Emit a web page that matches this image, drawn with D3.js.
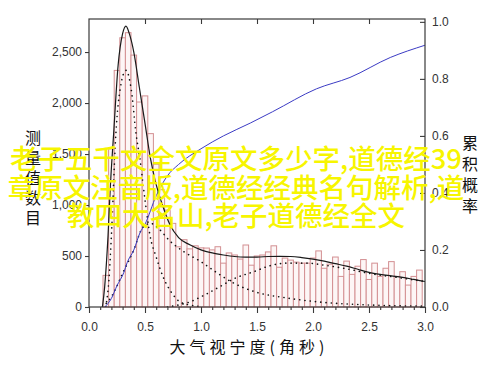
<!DOCTYPE html>
<html><head><meta charset="utf-8">
<script src="https://cdn.jsdelivr.net/npm/d3@7"></script>
<style>body{margin:0;background:#fff}svg{display:block}</style>
</head><body>
<script>
// ---- data ----
const binStarts = [0.125,0.175,0.225,0.275,0.325,0.375,0.425,0.475,0.525,0.575,0.625,0.675,0.725,0.775,0.825,0.875,0.925,0.975,1.025,1.075,1.125,1.175,1.225,1.275,1.325,1.375,1.425,1.475,1.525,1.575,1.625,1.675,1.725,1.775,1.825,1.875,1.925,1.975,2.025,2.075,2.125,2.175,2.225,2.275,2.325,2.375,2.425,2.475,2.525,2.575,2.625,2.675,2.725,2.775,2.825,2.875,2.925];
const binWidth = 0.05;
const counts = [310,1550,2320,2640,2690,2470,2010,2070,1700,1400,1150,950,820,590,660,570,600,580,578,560,591,430,530,510,470,608,410,500,510,540,600,390,480,460,440,430,430,480,550,380,420,490,300,450,320,400,465,270,430,300,380,445,300,346,215,300,362];

const fitX = [0.12,0.14,0.17,0.19,0.22,0.26,0.30,0.33,0.36,0.40,0.45,0.50,0.55,0.60,0.65,0.72,0.80,0.90,1.00,1.10,1.20,1.30,1.40,1.50,1.60,1.70,1.80,1.90,2.00,2.10,2.20,2.30,2.40,2.50,2.60,2.70,2.80,2.90,3.00];
const fitTotal = [0,200,700,1170,1700,2370,2680,2755,2680,2500,2150,1800,1450,1200,1020,814,680,610,560,530,510,495,490,490,495,497,495,485,470,450,425,400,370,340,320,305,290,270,250];

const compAx = [0.15,0.18,0.20,0.24,0.28,0.33,0.38,0.42,0.455,0.50,0.545,0.60,0.66,0.74,0.81,0.90,1.00];
const compA  = [0,300,700,1700,2150,2320,2110,1700,1450,1050,700,490,300,137,52,20,5];

const compDx = [0.12,0.20,0.30,0.40,0.48,0.55,0.62,0.72,0.85,1.00,1.15,1.29,1.48,1.77,2.03,2.50,3.00];
const compD  = [0,100,330,560,780,820,770,650,540,444,330,235,150,88,52,20,8];

const compCx = [0.70,0.80,0.90,1.00,1.17,1.30,1.48,1.60,1.77,1.95,2.10,2.30,2.50,2.75,3.00];
const compC  = [0,20,50,100,200,280,350,400,430,430,410,375,330,290,250];

const cdfX = [0.14,0.20,0.25,0.31,0.34,0.40,0.455,0.50,0.60,0.70,0.80,1.00,1.20,1.44,1.64,2.03,2.33,2.69,3.00];
const cdfP = [0,0.03,0.075,0.12,0.155,0.20,0.26,0.29,0.39,0.46,0.50,0.555,0.60,0.645,0.685,0.765,0.805,0.875,0.918];

const xTicks = [0,0.5,1,1.5,2,2.5,3];
const xMinor = [0.1,0.2,0.3,0.4,0.6,0.7,0.8,0.9,1.1,1.2,1.3,1.4,1.6,1.7,1.8,1.9,2.1,2.2,2.3,2.4,2.6,2.7,2.8,2.9];
const yLTicks = [0,500,1000,1500,2000,2500];
const yRTicks = [0,0.2,0.4,0.6,0.8,1.0];
const xTitle = "大气视宁度(角秒)";
const yLTitle = "测量值数目";
const yRTitle = "累积概率";
const watermark = ["老子五千文全文原文多少字,道德经39","章原文注音版,道德经经典名句解析,道","教四大名山,老子道德经全文"];

// ---- drawing ----
const W = 500, H = 369;
const svg = d3.select("body").append("svg").attr("width", W).attr("height", H);
const L = 89, R = 425, T = 19, B = 307;
const x = d3.scaleLinear().domain([0,3]).range([L,R]);
const yL = d3.scaleLinear().domain([0,2824]).range([B,T]);
const yR = d3.scaleLinear().domain([0,1.01]).range([B,T]);
const font = "'Liberation Sans', Arial, sans-serif";
const cjk = "'Noto Sans CJK SC', sans-serif";

// bars
svg.append("g").selectAll("rect").data(binStarts).join("rect")
  .attr("x", d => x(d))
  .attr("width", d => x(d + binWidth) - x(d))
  .attr("y", (d,i) => yL(counts[i]))
  .attr("height", (d,i) => B - yL(counts[i]))
  .attr("fill", "#fdf6f6")
  .attr("stroke", "#d38f92")
  .attr("stroke-width", 1);

const clip = svg.append("clipPath").attr("id","pc").append("rect")
  .attr("x", L).attr("y", T).attr("width", R-L).attr("height", B-T);

const lineL = (xs) => d3.line().x((d,i) => x(xs[i])).y(d => yL(d)).curve(d3.curveMonotoneX);
const g = svg.append("g").attr("clip-path","url(#pc)");

// dotted components
[[compAx,compA],[compDx,compD],[compCx,compC]].forEach(([xs,vs]) => {
  g.append("path").datum(vs).attr("d", lineL(xs))
    .attr("fill","none").attr("stroke","#111").attr("stroke-width",1.6)
    .attr("stroke-linecap","round").attr("stroke-dasharray","0.1,5.2");
});
// CDF
g.append("path").datum(cdfP)
  .attr("d", d3.line().x((d,i) => x(cdfX[i])).y(d => yR(d)).curve(d3.curveMonotoneX))
  .attr("fill","none").attr("stroke","#3b3bc4").attr("stroke-width",1);
// total fit
g.append("path").datum(fitTotal).attr("d", lineL(fitX))
  .attr("fill","none").attr("stroke","#1a1a1a").attr("stroke-width",1.2);

// frame
svg.append("rect").attr("x",L).attr("y",T).attr("width",R-L).attr("height",B-T)
  .attr("fill","none").attr("stroke","#3a3a3a").attr("stroke-width",1.2);

// bottom axis
const gx = svg.append("g").attr("transform",`translate(0,${B})`)
  .call(d3.axisBottom(x).tickValues(xTicks).tickFormat(d3.format(".1f")).tickSize(6).tickPadding(9));
svg.append("g").attr("transform",`translate(0,${B})`)
  .call(d3.axisBottom(x).tickValues(xMinor).tickFormat("").tickSize(3));
// top ticks inward
svg.append("g").attr("transform",`translate(0,${T})`)
  .call(d3.axisBottom(x).tickValues(xTicks.slice(1,-1)).tickFormat("").tickSize(5));
// left axis
svg.append("g").attr("transform",`translate(${L},0)`)
  .call(d3.axisLeft(yL).tickValues(yLTicks).tickFormat(d3.format(",")).tickSize(4).tickPadding(3));
// right axis, ticks inward
const gr = svg.append("g").attr("transform",`translate(${R},0)`)
  .call(d3.axisLeft(yR).tickValues(yRTicks).tickFormat("").tickSize(5));
svg.append("g").attr("transform",`translate(${R},0)`)
  .call(d3.axisRight(yR).tickValues(yRTicks).tickFormat(d3.format(".1f")).tickSize(0).tickPadding(7));

svg.selectAll(".domain").remove();
svg.selectAll(".tick line").attr("stroke","#3a3a3a").attr("stroke-width",1.1);
svg.selectAll(".tick text").attr("font-family",font).attr("font-size",12).attr("fill","#333");

// titles
svg.append("text").attr("x",249).attr("y",353).attr("text-anchor","middle")
  .attr("font-family",cjk).attr("font-size",16).attr("letter-spacing",4).attr("fill","#111")
  .text(xTitle);
yLTitle.split("").forEach((c,i) => {
  svg.append("text").attr("x",33).attr("y",144 + i*20).attr("text-anchor","middle")
    .attr("font-family",cjk).attr("font-size",16).attr("fill","#111").text(c);
});
yRTitle.split("").forEach((c,i) => {
  svg.append("text").attr("x",470).attr("y",149 + i*21).attr("text-anchor","middle")
    .attr("font-family",cjk).attr("font-size",16).attr("fill","#111").text(c);
});

// watermark
watermark.forEach((t,i) => {
  svg.append("text").attr("x",236).attr("y",169 + i*28.5).attr("text-anchor","middle")
    .attr("font-family",cjk).attr("font-size",27.5).attr("font-weight",500)
    .attr("fill","#f7f500").text(t);
});
</script>
</body></html>
